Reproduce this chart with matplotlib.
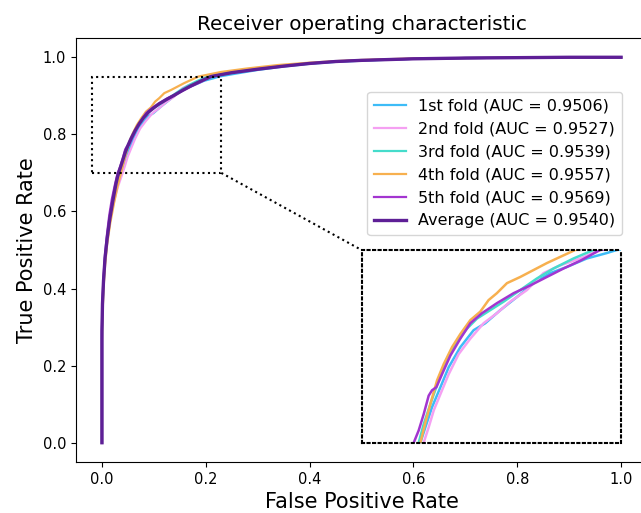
import matplotlib
matplotlib.use("Agg")
import matplotlib.pyplot as plt
from matplotlib.patches import Rectangle

# ---- data ----
fpr1 = [0, 0, 0.001, 0.003, 0.006, 0.010, 0.015, 0.021, 0.028, 0.0367, 0.0415, 0.0479, 0.0560, 0.0640, 0.0752, 0.0880, 0.0992, 0.1137, 0.1297, 0.1457, 0.1617, 0.1778, 0.1970, 0.2162, 0.2258, 0.26, 0.30, 0.35, 0.40, 0.45, 0.50, 0.60, 0.70, 0.80, 0.90, 1.0]
tpr1 = [0, 0.27, 0.34, 0.41, 0.47, 0.52, 0.575, 0.625, 0.665, 0.700, 0.720, 0.746, 0.772, 0.798, 0.824, 0.846, 0.855, 0.872, 0.889, 0.907, 0.920, 0.928, 0.939, 0.946, 0.950, 0.958, 0.967, 0.976, 0.983, 0.988, 0.991, 0.996, 0.998, 0.999, 1.0, 1.0]

fpr2 = [0, 0, 0.001, 0.003, 0.006, 0.010, 0.016, 0.023, 0.031, 0.0399, 0.0447, 0.0496, 0.0560, 0.0640, 0.0736, 0.0848, 0.0976, 0.1104, 0.1233, 0.1393, 0.1553, 0.1713, 0.1906, 0.2098, 0.25, 0.30, 0.35, 0.40, 0.45, 0.50, 0.60, 0.70, 0.80, 0.90, 1.0]
tpr2 = [0, 0.29, 0.36, 0.42, 0.48, 0.53, 0.58, 0.625, 0.665, 0.700, 0.720, 0.742, 0.763, 0.789, 0.815, 0.835, 0.855, 0.868, 0.883, 0.898, 0.920, 0.930, 0.939, 0.950, 0.960, 0.969, 0.977, 0.984, 0.989, 0.992, 0.996, 0.998, 0.999, 1.0, 1.0]

fpr3 = [0, 0, 0.001, 0.003, 0.006, 0.010, 0.015, 0.021, 0.028, 0.0351, 0.0399, 0.0463, 0.0543, 0.0624, 0.0720, 0.0816, 0.0912, 0.1040, 0.1169, 0.1329, 0.1489, 0.1649, 0.1842, 0.2034, 0.24, 0.29, 0.35, 0.40, 0.45, 0.50, 0.60, 0.70, 0.80, 0.90, 1.0]
tpr3 = [0, 0.28, 0.35, 0.42, 0.48, 0.535, 0.585, 0.632, 0.668, 0.700, 0.724, 0.750, 0.781, 0.807, 0.831, 0.848, 0.861, 0.872, 0.883, 0.898, 0.913, 0.926, 0.939, 0.950, 0.960, 0.970, 0.978, 0.984, 0.989, 0.992, 0.996, 0.998, 0.999, 1.0, 1.0]

fpr4 = [0, 0, 0.001, 0.003, 0.006, 0.010, 0.016, 0.023, 0.030, 0.0367, 0.0415, 0.0463, 0.0528, 0.0592, 0.0672, 0.0752, 0.0848, 0.0944, 0.1024, 0.1104, 0.1201, 0.1329, 0.1457, 0.1585, 0.1713, 0.1858, 0.23, 0.28, 0.34, 0.40, 0.45, 0.50, 0.60, 0.70, 0.80, 0.90, 1.0]
tpr4 = [0, 0.26, 0.33, 0.40, 0.46, 0.515, 0.57, 0.62, 0.665, 0.700, 0.726, 0.750, 0.781, 0.802, 0.824, 0.841, 0.859, 0.870, 0.885, 0.894, 0.907, 0.915, 0.924, 0.933, 0.941, 0.950, 0.962, 0.971, 0.980, 0.986, 0.990, 0.993, 0.997, 0.998, 0.999, 1.0, 1.0]

fpr5 = [0, 0, 0.001, 0.003, 0.006, 0.010, 0.014, 0.019, 0.025, 0.0303, 0.0351, 0.0399, 0.0447, 0.0479, 0.0521, 0.0576, 0.0656, 0.0752, 0.0848, 0.0960, 0.1104, 0.1265, 0.1425, 0.1585, 0.1746, 0.1906, 0.2098, 0.25, 0.30, 0.35, 0.40, 0.45, 0.50, 0.60, 0.70, 0.80, 0.90, 1.0]
tpr5 = [0, 0.30, 0.37, 0.43, 0.49, 0.545, 0.59, 0.632, 0.670, 0.700, 0.716, 0.737, 0.761, 0.768, 0.772, 0.789, 0.813, 0.835, 0.855, 0.868, 0.881, 0.894, 0.904, 0.915, 0.926, 0.936, 0.950, 0.960, 0.969, 0.977, 0.984, 0.989, 0.992, 0.996, 0.998, 0.999, 1.0, 1.0]

fpr_avg = [0, 0, 0.001, 0.003, 0.006, 0.010, 0.015, 0.021, 0.027, 0.030, 0.035, 0.040, 0.045, 0.050, 0.056, 0.064, 0.072, 0.080, 0.090, 0.100, 0.110, 0.125, 0.140, 0.155, 0.170, 0.190, 0.210, 0.25, 0.30, 0.35, 0.40, 0.45, 0.50, 0.60, 0.70, 0.80, 0.90, 1.0]
tpr_avg = [0, 0.29, 0.36, 0.42, 0.48, 0.53, 0.58, 0.628, 0.672, 0.690, 0.712, 0.733, 0.754, 0.771, 0.789, 0.810, 0.828, 0.843, 0.858, 0.869, 0.879, 0.891, 0.902, 0.914, 0.925, 0.938, 0.950, 0.960, 0.969, 0.977, 0.984, 0.989, 0.992, 0.996, 0.998, 0.999, 1.0, 1.0]

labels = ["1st fold (AUC = 0.9506)", "2nd fold (AUC = 0.9527)", "3rd fold (AUC = 0.9539)",
          "4th fold (AUC = 0.9557)", "5th fold (AUC = 0.9569)"]
avg_label = "Average (AUC = 0.9540)"
colors = ["#3dbcf7", "#f5a0f2", "#45dccb", "#f7b04f", "#a335d0"]
avg_color = "#5e1f96"

zoom_x = (-0.02, 0.23)
zoom_y = (0.70, 0.95)
inset_bounds = [0.5, 0.0, 0.5, 0.5]

folds = [(fpr1, tpr1), (fpr2, tpr2), (fpr3, tpr3), (fpr4, tpr4), (fpr5, tpr5)]

# ---- figure ----
W, H = 641, 513
fig = plt.figure(figsize=(W / 100, H / 100), dpi=100)
ax = fig.add_axes([76 / W, 51 / H, 571 / W, 424 / H])

for (f, t), c, lab in zip(folds, colors, labels):
    ax.plot(f, t, color=c, lw=1.6, label=lab)
ax.plot(fpr_avg, tpr_avg, color=avg_color, lw=2.4, label=avg_label)

ax.set_xlim(-0.05, 1.05)
ax.set_ylim(-0.05, 1.05)
ax.set_xticks([0, 0.2, 0.4, 0.6, 0.8, 1.0])
ax.set_yticks([0, 0.2, 0.4, 0.6, 0.8, 1.0])
ax.tick_params(labelsize=10.5)
ax.set_xlabel("False Positive Rate", fontsize=15)
ax.set_ylabel("True Positive Rate", fontsize=15)
ax.set_title("Receiver operating characteristic", fontsize=14.3)

ax.legend(loc="upper right", bbox_to_anchor=((622 - 76) / 571, (462 - 92) / 424),
          borderaxespad=0, fontsize=11.5)

# inset
axins = ax.inset_axes(inset_bounds, transform=ax.transData)
for (f, t), c in zip(folds, colors):
    axins.plot(f, t, color=c, lw=1.8)
axins.set_xlim(*zoom_x)
axins.set_ylim(*zoom_y)
axins.set_xticks([])
axins.set_yticks([])
for s in axins.spines.values():
    s.set_linestyle(":")
    s.set_linewidth(1.5)
    s.set_edgecolor("black")

ax.add_patch(Rectangle((zoom_x[0], zoom_y[0]), zoom_x[1] - zoom_x[0], zoom_y[1] - zoom_y[0],
                       fill=False, ls=":", lw=1.5, ec="black", zorder=5))
ax.plot([zoom_x[1], inset_bounds[0]], [zoom_y[0], inset_bounds[1] + inset_bounds[3]],
        ls=":", lw=1.5, color="black", zorder=5)

fig.savefig("out.png", dpi=100)
